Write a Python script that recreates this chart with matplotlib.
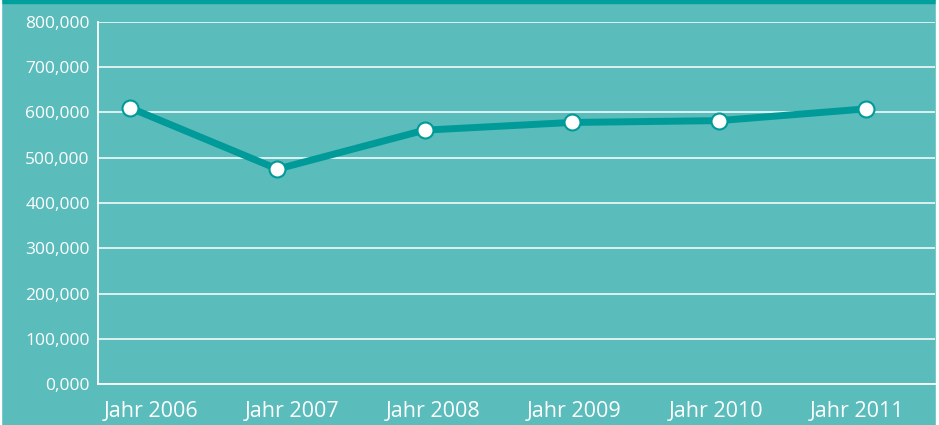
import matplotlib.pyplot as plt
from matplotlib.ticker import FuncFormatter
import matplotlib.patches as mpatches

# chart data
years = ["Jahr 2006", "Jahr 2007", "Jahr 2008", "Jahr 2009", "Jahr 2010", "Jahr 2011"]
values = [610000, 475000, 561000, 578000, 582000, 608000]
y_ticks = [0, 100000, 200000, 300000, 400000, 500000, 600000, 700000, 800000]

bg = "#5bbcbc"
line_col = "#009a98"

plt.rcParams['font.family'] = ['Open Sans', 'DejaVu Sans']

fig = plt.figure(figsize=(9.39, 4.25), dpi=100, facecolor=bg)
ax = fig.add_axes([98 / 939, 1 - 384 / 425, 837 / 939, 362 / 425])
ax.set_facecolor(bg)

x = list(range(len(years)))
ax.plot(x, values, color=line_col, lw=5, solid_capstyle="round", zorder=3)
ax.plot(x, values, ls="none", marker="o", ms=11.5, mfc="white", mec=line_col, mew=1.5, zorder=4)

ax.set_ylim(0, 800000)
ax.set_xlim(-0.22, 5.47)
ax.set_yticks(y_ticks)
ax.yaxis.set_major_formatter(FuncFormatter(lambda v, p: f"{int(v):,}" if v else "0,000"))
# labels sit on a slightly narrower spread than the points
ax.set_xticks([0.14 + i * 0.96 for i in x])
ax.set_xticklabels(years)
ax.grid(axis="y", color="white", lw=1.1)
ax.set_axisbelow(True)

for s in ["top", "right"]:
    ax.spines[s].set_visible(False)
ax.spines["left"].set_color("white")
ax.spines["bottom"].set_color("white")
ax.spines["left"].set_linewidth(1.3)
ax.spines["bottom"].set_linewidth(1.3)
ax.tick_params(axis="y", length=0, pad=6, colors="white", labelsize=12.5)
ax.tick_params(axis="x", length=0, pad=12, colors="white", labelsize=15.5)

# dark strip at the top, thin white edges left and right
fig.patches.append(mpatches.Rectangle((0, 1 - 3 / 425), 1, 3 / 425, transform=fig.transFigure,
                                      color="#00a19c", zorder=0))
fig.patches.append(mpatches.Rectangle((936 / 939, 0), 3 / 939, 1, transform=fig.transFigure,
                                      color="white", zorder=5))
fig.patches.append(mpatches.Rectangle((0, 0), 1 / 939, 1, transform=fig.transFigure,
                                      color="white", zorder=5))

fig.savefig("out.png", dpi=100, facecolor=bg)
